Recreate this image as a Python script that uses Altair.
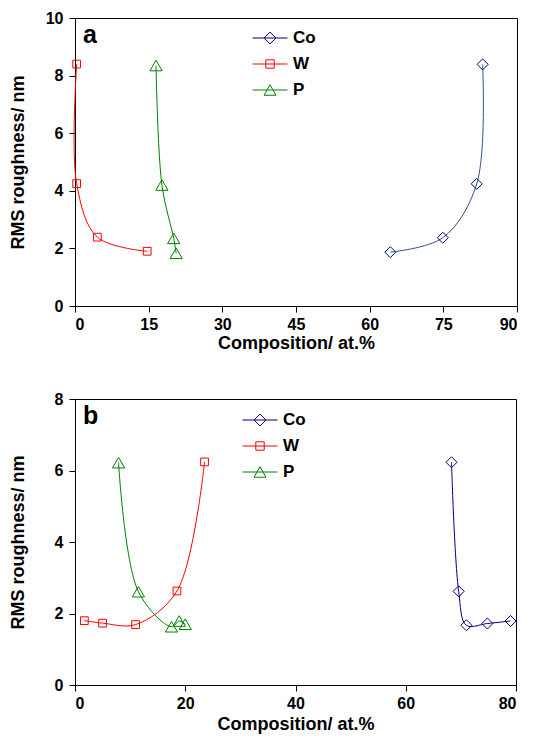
import altair as alt
import pandas as pd

FONT = "Liberation Sans"
elements = ["Co", "W", "P"]
point_colors = ["#000080", "#FF0000", "#008000"]
line_colors_a = ["#2F4F8F", "#FF0000", "#008000"]
line_colors_b = ["#000080", "#FF0000", "#008000"]
point_shapes = ["diamond", "square", "triangle-up"]
point_sizes = [121, 60, 150]
legend_shapes = [
    "M-1,0L1,0M-0.34,0L0,-0.34L0.34,0L0,0.34Z",
    "M-1,0L1,0M-0.24,-0.24L0.24,-0.24L0.24,0.24L-0.24,0.24Z",
    "M-1,0L1,0M0,-0.3L0.34,0.3L-0.34,0.3Z",
]

# Panel a
a_co_x = [83.0, 81.8, 74.9, 64.2]
a_co_y = [8.39, 4.24, 2.37, 1.87]
a_w_x = [0.34, 0.34, 4.55, 14.7]
a_w_y = [8.40, 4.25, 2.39, 1.90]
a_p_x = [16.5, 17.7, 20.1, 20.6]
a_p_y = [8.35, 4.20, 2.35, 1.83]

# Panel b
b_co_x = [68.3, 69.6, 71.0, 74.8, 79.0]
b_co_y = [6.23, 2.62, 1.67, 1.72, 1.79]
b_w_x = [1.7, 5.0, 11.0, 18.5, 23.5]
b_w_y = [1.80, 1.73, 1.69, 2.63, 6.24]
b_p_x = [7.9, 11.5, 17.5, 18.9, 20.0]
b_p_y = [6.22, 2.61, 1.63, 1.79, 1.70]


def frame(series):
    rows = []
    for el, xs, ys in series:
        for i, (x, y) in enumerate(zip(xs, ys)):
            rows.append({"el": el, "x": x, "y": y, "i": i})
    return pd.DataFrame(rows)


def panel(df, xmax, xstep, ymax, letter, lx, ly, w, h, xtp, line_colors):
    x = alt.X("x:Q", scale=alt.Scale(domain=[0, xmax], nice=False),
              axis=alt.Axis(values=list(range(0, xmax + 1, xstep)),
                            title="Composition/ at.%", titlePadding=xtp,
                            labelPadding=4))
    y = alt.Y("y:Q", scale=alt.Scale(domain=[0, ymax], nice=False),
              axis=alt.Axis(values=list(range(0, ymax + 1, 2)),
                            title="RMS roughness/ nm", titlePadding=17,
                            labelPadding=6, minExtent=31, maxExtent=31))
    cs_pt = alt.Scale(domain=elements, range=point_colors)
    cs_ln = alt.Scale(domain=elements, range=line_colors)
    layers = []
    layers.append(alt.Chart(df).mark_line(interpolate="catmull-rom", strokeWidth=1).encode(
        x=x, y=y,
        color=alt.Color("el:N", scale=cs_ln, legend=None),
        order="i:Q",
    ))
    for el, col, shp, sz in zip(elements, point_colors, point_shapes, point_sizes):
        layers.append(alt.Chart(df).transform_filter(alt.datum.el == el).mark_point(
            filled=False, strokeWidth=1, opacity=1, shape=shp, size=sz, color=col
        ).encode(x=x, y=y))
    leg_props = dict(orient="none", legendX=lx, legendY=ly, title=None,
                     symbolSize=1225, symbolOpacity=1, symbolStrokeWidth=1,
                     labelFont=FONT, labelFontSize=17, labelFontWeight="bold",
                     labelColor="black", rowPadding=-10, padding=0, labelOffset=5)
    layers.append(alt.Chart(df).mark_point(filled=False, opacity=0, strokeWidth=1).encode(
        x=x, y=y,
        color=alt.Color("el:N", scale=cs_pt, legend=alt.Legend(**leg_props)),
        shape=alt.Shape("el:N", scale=alt.Scale(domain=elements, range=legend_shapes),
                        legend=alt.Legend(**leg_props)),
    ))
    layers.append(alt.Chart(pd.DataFrame({"t": [letter]})).mark_text(
        align="left", baseline="alphabetic", fontSize=25, fontWeight="bold",
        font=FONT, color="black"
    ).encode(x=alt.value(8), y=alt.value(25), text="t:N"))
    return alt.layer(*layers).resolve_scale(
        color="independent", shape="independent"
    ).properties(width=w, height=h)


df_a = frame([("Co", a_co_x, a_co_y), ("W", a_w_x, a_w_y), ("P", a_p_x, a_p_y)])
df_b = frame([("Co", b_co_x, b_co_y), ("W", b_w_x, b_w_y), ("P", b_p_x, b_p_y)])

pa = panel(df_a, 90, 15, 10, "a", 177, 2, 442, 288, 2, line_colors_a)
pb = panel(df_b, 80, 20, 8, "b", 167, 3, 441, 286, 4, line_colors_b)

chart = alt.vconcat(pa, pb, spacing=37).properties(
    padding={"left": 0, "top": 1, "right": 0, "bottom": 0}
).configure_view(stroke="black", strokeWidth=1).configure_axis(
    domainColor="black", tickColor="black", tickSize=6, grid=False,
    labelFont=FONT, labelFontSize=16, labelFontWeight="bold", labelColor="black",
    titleFont=FONT, titleFontSize=18, titleFontWeight="bold", titleColor="black",
)

chart.save("out.html", embed_options={"renderer": "svg", "actions": False})
